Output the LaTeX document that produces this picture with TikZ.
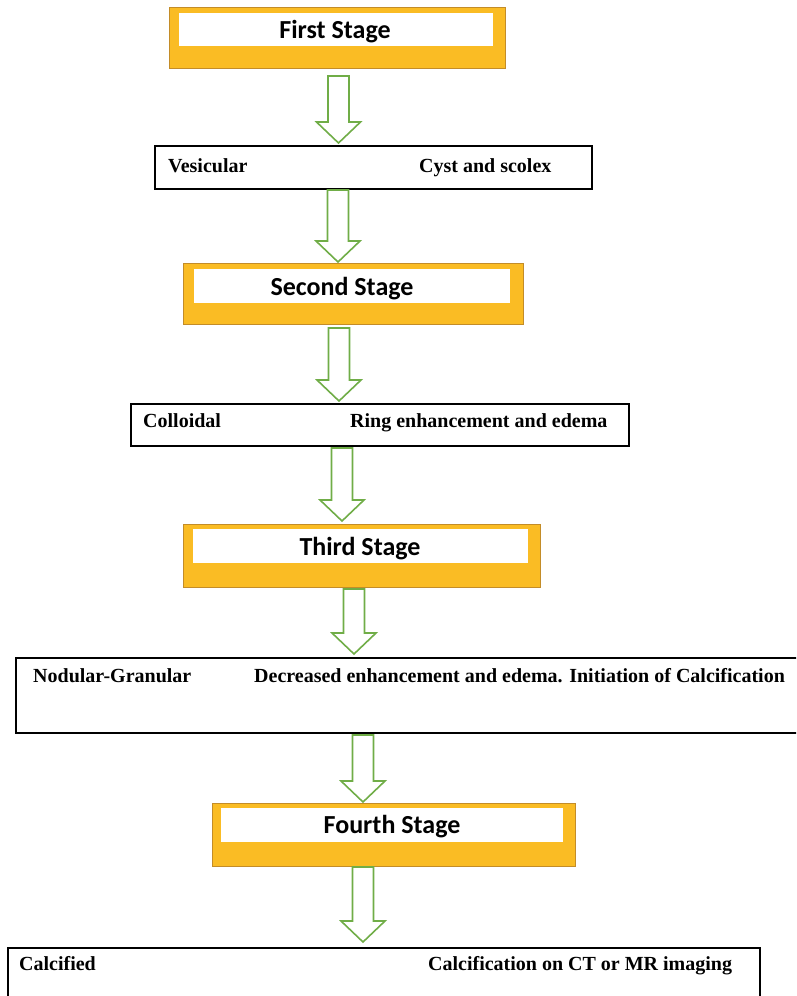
\documentclass[tikz,border=0pt]{standalone}
\usepackage{fontspec}
\usetikzlibrary{calc}
\newfontfamily\stagefont{Carlito}
\newfontfamily\bodyfont{Liberation Serif}
\definecolor{stagefill}{RGB}{250,188,36}
\definecolor{stageborder}{RGB}{195,140,40}
\definecolor{arrowgreen}{RGB}{112,173,71}
\tikzset{
  stagebox/.style={draw=stageborder, fill=stagefill, line width=1.4pt, inner sep=0pt, anchor=north west},
  innerbox/.style={fill=white, inner sep=0pt, anchor=north west},
  stagetext/.style={font=\stagefont\bfseries\fontsize{26}{30}\selectfont, anchor=base, inner sep=0pt},
  infobox/.style={draw=black, line width=2pt, inner sep=0pt, anchor=north west},
  infotext/.style={font=\bodyfont\bfseries\fontsize{20}{24}\selectfont, anchor=base west, inner sep=0pt},
  garrow/.style={draw=arrowgreen, line width=1.6pt, fill=white, line join=miter}
}
\newcommand{\blockarrow}[4]{%
  \coordinate (#1top) at (#2,#3);
  \coordinate (#1tip) at (#2,#4);
  \draw[garrow] ($(#1top)+(-10.5,0)$) -- ($(#1top)+(10.5,0)$)
    -- ($(#1tip)+(10.5,-21)$) -- ($(#1tip)+(22,-21)$) -- (#1tip)
    -- ($(#1tip)+(-22,-21)$) -- ($(#1tip)+(-10.5,-21)$) -- cycle;
}
\begin{document}
\begin{tikzpicture}[x=1pt,y=-1pt]
\useasboundingbox (0,0) rectangle (796,996);
\clip (0,0) rectangle (796,996);
\fill[white] (0,0) rectangle (796,996);

% stage boxes
\node[stagebox, minimum width=336pt, minimum height=61pt] (s1) at (169,7) {};
\node[innerbox, minimum width=314pt, minimum height=33pt] (s1i) at (179,13) {};
\node[stagetext] (s1t) at (335,38) {First Stage};

\node[stagebox, minimum width=340pt, minimum height=61pt] (s2) at (183,263) {};
\node[innerbox, minimum width=316pt, minimum height=34pt] (s2i) at (194,269) {};
\node[stagetext] (s2t) at (342,295) {Second Stage};

\node[stagebox, minimum width=357pt, minimum height=63pt] (s3) at (183,524) {};
\node[innerbox, minimum width=335pt, minimum height=34pt] (s3i) at (193,529) {};
\node[stagetext] (s3t) at (360,555) {Third Stage};

\node[stagebox, minimum width=363pt, minimum height=63pt] (s4) at (212,803) {};
\node[innerbox, minimum width=342pt, minimum height=34pt] (s4i) at (221,808) {};
\node[stagetext] (s4t) at (392,833) {Fourth Stage};

% info boxes
\node[infobox, minimum width=437pt, minimum height=43pt] (b1) at (154,145) {};
\node[infotext] (b1l) at (168,172) {Vesicular};
\node[infotext] (b1r) at (419,172) {Cyst and scolex};

\node[infobox, minimum width=498pt, minimum height=42pt] (b2) at (130,403) {};
\node[infotext] (b2l) at (143,427) {Colloidal};
\node[infotext] (b2r) at (350,427) {Ring enhancement and edema};

\node[infobox, minimum width=790pt, minimum height=75pt] (b3) at (15,657) {};
\node[infotext] (b3l) at (33,682) {Nodular-Granular};
\node[infotext] (b3r) at (254,682) {Decreased enhancement and edema. Initiation of Calcification};

\node[infobox, minimum width=752pt, minimum height=80pt] (b4) at (7,947) {};
\node[infotext] (b4l) at (19,970) {Calcified};
\node[infotext] (b4r) at (428,970) {Calcification on CT or MR imaging};

% block arrows
\blockarrow{a1}{338.5}{76}{143}
\blockarrow{a2}{338}{190}{262}
\blockarrow{a3}{339}{328}{401}
\blockarrow{a4}{342}{448}{521}
\blockarrow{a5}{354}{589}{654}
\blockarrow{a6}{363}{735}{802}
\blockarrow{a7}{363}{867}{942}
\end{tikzpicture}
\end{document}
